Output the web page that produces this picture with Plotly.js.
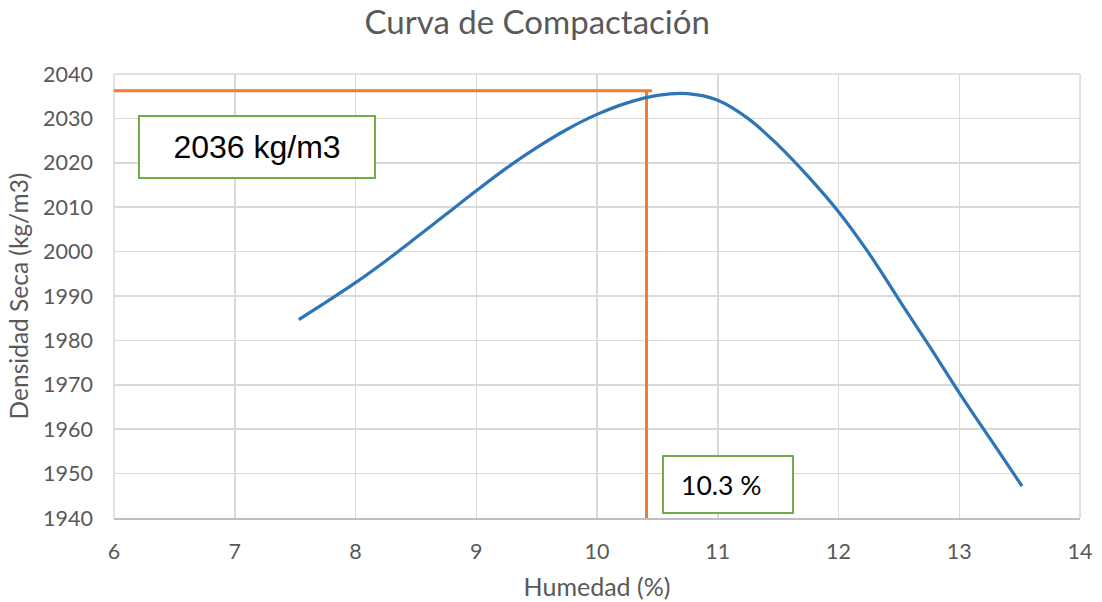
<!DOCTYPE html>
<html>
<head>
<meta charset="utf-8">
<script src="https://cdn.plot.ly/plotly-3.0.1.min.js"></script>
<style>html,body{margin:0;padding:0;background:#fff;}#chart{width:1102px;height:602px;}</style>
</head>
<body>
<div id="chart"></div>
<script>
// Curve data (Humedad %, Densidad seca kg/m3)
const humedad = [7.53, 7.75, 8.0, 8.25, 8.5, 8.75, 9.0, 9.25, 9.5, 9.75, 10.0, 10.25, 10.5, 10.75, 11.0, 11.25, 11.5, 11.75, 12.0, 12.25, 12.5, 12.75, 13.0, 13.25, 13.52];
const densidad = [1984.7, 1988.5, 1993.0, 1997.9, 2003.1, 2008.4, 2013.7, 2018.8, 2023.4, 2027.5, 2030.9, 2033.5, 2035.2, 2035.6, 2034.1, 2030.0, 2024.0, 2016.9, 2009.0, 1999.7, 1989.2, 1978.8, 1968.2, 1958.1, 1947.2];

// Optimum reference lines
const hLineX = [5.99, 10.455];
const hLineY = [2036.2, 2036.2];
const vLineX = [10.41, 10.41];
const vLineY = [1940, 2036.2];

// Labels
const labelDensidad = "2036 kg/m3";
const labelDensidadPos = [7.185, 2023.5];
const labelHumedad = "10.3 %";
const labelHumedadPos = [11.083, 1947.6];

const xTicks = [6, 7, 8, 9, 10, 11, 12, 13, 14];
const yTicks = [1940, 1950, 1960, 1970, 1980, 1990, 2000, 2010, 2020, 2030, 2040];

const traces = [
  {x: hLineX, y: hLineY, mode: 'lines', line: {color: '#ED7D31', width: 3}, hoverinfo: 'skip', cliponaxis: false},
  {x: vLineX, y: vLineY, mode: 'lines', line: {color: '#ED7D31', width: 3}, hoverinfo: 'skip'},
  {x: humedad, y: densidad, mode: 'lines', line: {color: '#2E75B6', width: 3.2, shape: 'spline', smoothing: 1}}
];

const layout = {
  width: 1102, height: 602,
  margin: {l: 114, r: 22, t: 74, b: 84},
  paper_bgcolor: '#fff', plot_bgcolor: '#fff',
  showlegend: false,
  font: {family: 'Lato, "Open Sans", sans-serif', color: '#595959'},
  title: {text: 'Curva de Compactación', font: {family: 'Lato, sans-serif', size: 33, color: '#595959'}, x: 0.4875, xanchor: 'center', xref: 'container', y: 0.962, yanchor: 'middle'},
  xaxis: {
    range: [6, 14], tickvals: xTicks, ticktext: xTicks.map(String),
    showgrid: true, gridcolor: '#d9d9d9', gridwidth: 1.5, zeroline: false,
    showline: true, linecolor: '#bfbfbf', linewidth: 1.5,
    ticks: '', ticklabelstandoff: 14,
    tickfont: {size: 21.5, color: '#595959'},
    title: {text: 'Humedad (%)', font: {size: 25, color: '#595959'}, standoff: 15}
  },
  yaxis: {
    range: [1940, 2040], tickvals: yTicks, ticktext: yTicks.map(String),
    showgrid: true, gridcolor: '#d9d9d9', gridwidth: 1.5, zeroline: false,
    showline: false, ticks: '', ticklabelstandoff: 20,
    tickfont: {size: 21.5, color: '#595959'},
    title: {text: 'Densidad Seca (kg/m3)', font: {size: 24.5, color: '#595959'}, standoff: 7}
  },
  annotations: [
    {x: labelDensidadPos[0], y: labelDensidadPos[1], xref: 'x', yref: 'y', text: labelDensidad, showarrow: false,
     font: {family: '"Liberation Sans", Arial, sans-serif', size: 32, color: '#000'},
     bgcolor: '#fff', bordercolor: '#70AD47', borderwidth: 2, borderpad: 0, width: 234, height: 60, align: 'center', valign: 'middle'},
    {x: labelHumedadPos[0], y: labelHumedadPos[1], xref: 'x', yref: 'y', text: labelHumedad + '&nbsp;&nbsp;', showarrow: false,
     font: {family: 'Lato, sans-serif', size: 26.5, color: '#000'},
     bgcolor: '#fff', bordercolor: '#70AD47', borderwidth: 2, borderpad: 0, width: 128, height: 55, align: 'center', valign: 'middle'}
  ],
  shapes: [
    {type: 'line', xref: 'paper', yref: 'paper', x0: 0, x1: 1, y0: 1, y1: 1, line: {color: '#d9d9d9', width: 1.5}, layer: 'below'},
    {type: 'line', xref: 'paper', yref: 'paper', x0: 1, x1: 1, y0: 0, y1: 1, line: {color: '#d9d9d9', width: 1.5}, layer: 'below'},
    {type: 'line', xref: 'paper', yref: 'paper', x0: 0, x1: 0, y0: 0, y1: 1, line: {color: '#d9d9d9', width: 1.5}, layer: 'below'}
  ]
};

Plotly.newPlot('chart', traces, layout, {displayModeBar: false, staticPlot: true});
</script>
</body>
</html>
